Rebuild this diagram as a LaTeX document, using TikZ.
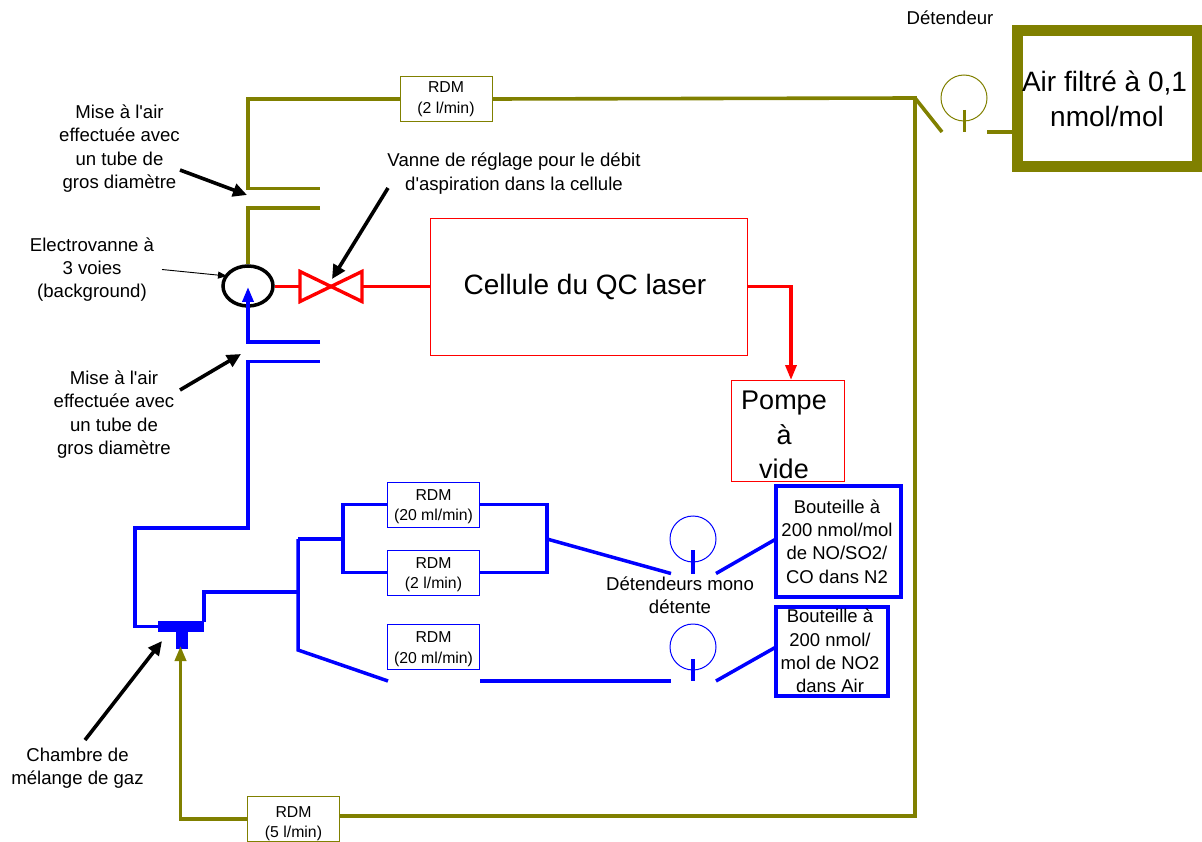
\documentclass[tikz,border=0pt]{standalone}
\usepackage{fontspec}
\setmainfont[Ligatures=TeXOff]{Liberation Sans}
\usetikzlibrary{arrows.meta,positioning}
\definecolor{airolive}{HTML}{808000}

\begin{document}
\begin{tikzpicture}[
  x=1pt, y=-1pt,
  node distance=23pt and 40pt,
  box/.style={rectangle, draw, fill=white, inner sep=0pt, outer sep=0pt, align=center},
  rdm/.style={box, line width=1pt, minimum width=92pt, minimum height=45pt, font=\fontsize{15.8}{20.5}\selectfont},
  rdmair/.style={rdm, draw=airolive},
  rdmblue/.style={rdm, draw=blue},
  bottle/.style={box, draw=blue, line width=4pt},
  bigbox/.style={box, draw=red, line width=1pt, font=\fontsize{28}{34.5}\selectfont},
  note/.style={align=center, inner sep=0pt, font=\fontsize{18.6}{23.3}\selectfont},
  bottlenote/.style={note, font=\fontsize{18.5}{23.2}\selectfont},
  gauge/.style={circle, draw, line width=1pt, inner sep=0pt, minimum size=46pt},
  airpipe/.style={draw=airolive, line width=3.6pt},
  bluepipe/.style={draw=blue, line width=3.5pt},
  redpipe/.style={draw=red, line width=3.4pt},
  lead/.style={-{Triangle[length=14pt,width=13pt]}, line width=3.6pt},
  flowtip/.style={-{Triangle[length=15pt,width=11pt]}}
]
\useasboundingbox (0,0) rectangle (1202,842);

% Air supply
\node[box, draw=airolive, line width=11pt, minimum width=180pt, minimum height=136pt, font=\fontsize{28}{35}\selectfont] (airbox) at (1107,98.5) {\hspace*{-5pt}Air filtré à 0,1\\nmol/mol};
\node[gauge, draw=airolive] (airgauge) at (964,98) {};
\node[note] (airlabel) at (950,18) {Détendeur};
\node[rdmair] (rdmtop) at (446,99) {RDM\\(2 l/min)};
\node[rdmair] (rdmbottom) at (293.5,819) {\rule{0pt}{20pt}RDM\\(5 l/min)};

% Cell line
\node[bigbox, minimum width=317pt, minimum height=136pt] (cell) at (588.5,287) {\hspace*{-7pt}Cellule du QC laser};
\node[bigbox, minimum width=113pt, minimum height=101pt, font=\fontsize{27}{34.5}\selectfont] (pump) at (787.5,430.5) {\rule{0pt}{28pt}\hspace*{-7pt}Pompe\\\hspace*{-7pt}à\\\hspace*{-7pt}vide};
\node[circle, draw, line width=3.5pt, inner sep=0pt, minimum size=40pt, xscale=1.25] (evalve) at (248,286) {};

% Blue side
\node[rdmblue] (rdmone) at (433.5,504.5) {\rule{0pt}{15pt}RDM\\(20 ml/min)};
\node[rdmblue, below=23pt of rdmone] (rdmtwo) {\rule{0pt}{15pt}RDM\\(2 l/min)};
\node[rdmblue, below=29.5pt of rdmtwo] (rdmthree) {\rule{0pt}{15pt}RDM\\(20 ml/min)};
\node[gauge, draw=blue] (gaugeone) at (693,539) {};
\node[gauge, draw=blue] (gaugetwo) at (693,647) {};
\node[bottle, minimum width=125pt, minimum height=111pt] (bottleone) at (838.5,541.5) {};
\node[bottle, minimum width=112pt, minimum height=89pt] (bottletwo) at (832,651.5) {};
\node[bottlenote] (bottleonetext) at (837,541.5) {Bouteille à\\200 nmol/mol\\de NO/SO2/\\CO dans N2};
\node[bottlenote] (bottletwotext) at (830,651) {Bouteille à\\200 nmol/\\mol de NO2\\dans Air};
\node[note] (gaugenote) at (680,595.5) {Détendeurs mono\\détente};

% Mixing chamber
\node[rectangle, fill=blue, inner sep=0pt, minimum width=46pt, minimum height=11pt] (mixbar) at (181,626.5) {};
\node[rectangle, fill=blue, inner sep=0pt, minimum width=12pt, minimum height=17pt, below=0pt of mixbar, xshift=1pt] (mixstem) {};

% Text labels
\node[note] (ventuplabel) at (119.5,148.5) {Mise à l'air\\effectuée avec\\un tube de\\gros diamètre};
\node[note] (ventdownlabel) at (114,414.5) {Mise à l'air\\effectuée avec\\un tube de\\gros diamètre};
\node[note] (valvelabel) at (514,173.5) {Vanne de réglage pour le débit\\d'aspiration dans la cellule};
\node[note] (evalvelabel) at (92,269.5) {Electrovanne à\\3 voies\\(background)};
\node[note] (mixlabel) at (77.5,768.5) {Chambre de\\mélange de gaz};

% Free ends of the pipes
\coordinate (airtee) at (915,98);
\coordinate (airend) at (915,816);
\coordinate (mixin) at (180.5,646);
\coordinate (ventupa) at (320,188.5);
\coordinate (ventupb) at (320,208);
\coordinate (ventdowna) at (320,342);
\coordinate (ventdownb) at (320,361.5);
\coordinate (valvemid) at (331,286.5);
\coordinate (splitup) at (298,539);
\coordinate (splitdown) at (298,650);
\coordinate (loopleft) at (343,539);
\coordinate (loopright) at (547,539);

% Olive pipes
\draw[airpipe] (rdmtop.west) -| (ventupa -| evalve.north) -- (ventupa);
\draw[airpipe] (ventupb) -- (ventupb -| evalve.north) -- (evalve.north);
\draw[airpipe] (rdmtop.east) -- (airtee) -- (airend) -- (rdmbottom.east |- airend);
\draw[airpipe] (airtee) -- (942,132);
\draw[airpipe] (964.5,110) -- (964.5,132);
\draw[airpipe] (987,132) -- (airbox.west |- 0,132);
\draw[airpipe, flowtip] (rdmbottom.west) -| (mixin);

% Red pipes
\draw[redpipe] (evalve.east |- valvemid) -- (300,286.5);
\draw[redpipe, line join=miter] (valvemid) -- (300,271.5) -- (300,301.5) -- cycle;
\draw[redpipe, line join=miter] (valvemid) -- (362,271.5) -- (362,301.5) -- cycle;
\draw[redpipe] (362,286.5) -- (cell.west |- valvemid);
\draw[redpipe, flowtip] (cell.east |- valvemid) -| (791,380);

% Blue pipes
\draw[bluepipe] (mixbar.west) -| (135,528) -| (ventdownb -| evalve.south) -- (ventdownb);
\draw[bluepipe, flowtip] (ventdowna) -- (ventdowna -| evalve.south) -- (248,287);
\draw[bluepipe] (mixbar.east) ++(0,-5) |- (splitup |- 0,592);
\draw[bluepipe] (splitup) -- (splitdown) -- (388,681);
\draw[bluepipe] (splitup) -- (loopleft);
\draw[bluepipe] (rdmone.west) -- (rdmone.west -| loopleft) -- (rdmtwo.west -| loopleft) -- (rdmtwo.west);
\draw[bluepipe] (rdmone.east) -- (rdmone.east -| loopright) -- (rdmtwo.east -| loopright) -- (rdmtwo.east);
\draw[bluepipe] (loopright) -- (671,573.5);
\draw[bluepipe] (693,550) -- (693,573.5);
\draw[bluepipe] (716,573.5) -- (bottleone.west |- gaugeone);
\draw[bluepipe] (480,681) -- (671,681);
\draw[bluepipe] (693,659) -- (693,681);
\draw[bluepipe] (716,681) -- (bottletwo.west |- gaugetwo);

% Label arrows
\draw[lead] (180,170) -- (247,195);
\draw[lead] (180,390) -- (241,354);
\draw[lead] (388,188) -- (332,279);
\draw[lead] (85,740) -- (162,641);
\draw[-{Triangle[length=9pt,width=7pt]}, line width=0.9pt] (162,269.5) -- (227,276);
\end{tikzpicture}
\end{document}
